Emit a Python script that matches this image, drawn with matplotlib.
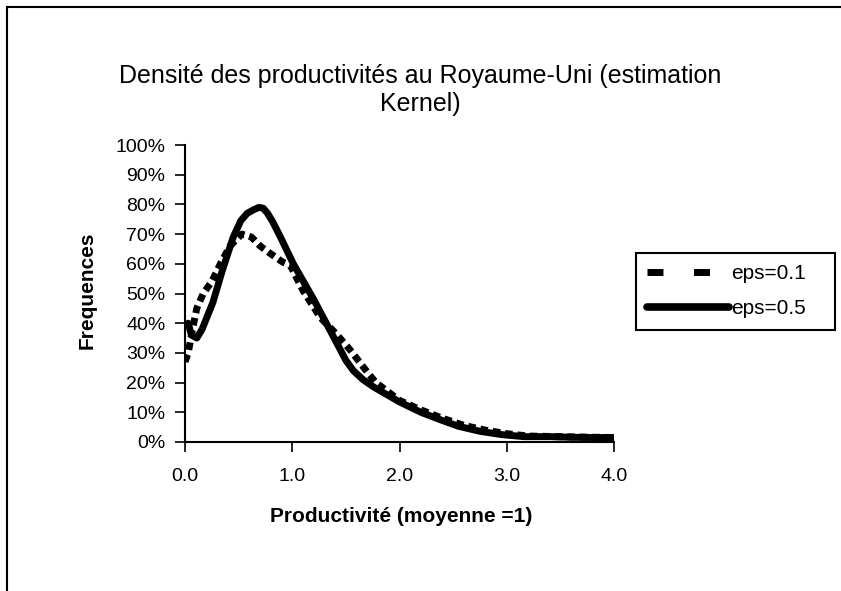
import matplotlib
matplotlib.use('Agg')
import matplotlib.pyplot as plt
from matplotlib.lines import Line2D
from matplotlib.ticker import PercentFormatter

plt.rcParams['font.family'] = ['Liberation Sans', 'DejaVu Sans']

title = "Densité des productivités au Royaume-Uni (estimation\nKernel)"
x_label = "Productivité (moyenne =1)"
y_label = "Frequences"
x_ticks = [0.0, 1.0, 2.0, 3.0, 4.0]
y_ticks = [0.0, 0.1, 0.2, 0.3, 0.4, 0.5, 0.6, 0.7, 0.8, 0.9, 1.0]

# eps=0.1 (pointillés)
eps01_x = [0.0, 0.03, 0.07, 0.11, 0.17, 0.25, 0.33, 0.42, 0.53, 0.62, 0.70, 0.79,
           0.91, 0.98, 1.10, 1.26, 1.42, 1.54, 1.70, 1.78, 2.0, 2.2, 2.4, 2.6,
           2.8, 3.0, 3.2, 3.5, 3.8, 4.0]
eps01_y = [0.27, 0.30, 0.38, 0.45, 0.50, 0.54, 0.60, 0.66, 0.70, 0.69, 0.66, 0.636,
           0.606, 0.596, 0.51, 0.42, 0.36, 0.31, 0.235, 0.20, 0.14, 0.108, 0.08, 0.056,
           0.04, 0.028, 0.02, 0.018, 0.016, 0.015]

# eps=0.5 (trait plein)
eps05_x = [0.03, 0.06, 0.11, 0.16, 0.26, 0.35, 0.45, 0.52, 0.58, 0.64, 0.69, 0.73,
           0.77, 0.82, 0.89, 1.01, 1.20, 1.42, 1.50, 1.57, 1.66, 1.76, 1.88, 2.0,
           2.2, 2.38, 2.55, 2.75, 2.95, 3.16, 3.4, 3.6, 3.8, 4.0]
eps05_y = [0.40, 0.36, 0.35, 0.38, 0.47, 0.58, 0.69, 0.745, 0.77, 0.782, 0.79, 0.787,
           0.77, 0.74, 0.69, 0.60, 0.48, 0.33, 0.275, 0.24, 0.21, 0.185, 0.16, 0.135,
           0.10, 0.075, 0.053, 0.036, 0.025, 0.018, 0.018, 0.016, 0.015, 0.015]

W, H = 841, 591
fig = plt.figure(figsize=(W / 100, H / 100), dpi=100)
ax = fig.add_axes([185 / W, (H - 442) / H, 429 / W, 297 / H])

ax.plot(eps01_x, eps01_y, color='black', lw=5, linestyle=(0, (1.1, 0.7)))
ax.plot(eps05_x, eps05_y, color='black', lw=5, solid_capstyle='round',
        solid_joinstyle='round')

ax.set_xlim(0, 4)
ax.set_ylim(0, 1)
ax.set_xticks(x_ticks)
ax.set_xticklabels(['%.1f' % v for v in x_ticks])
ax.set_yticks(y_ticks)
ax.yaxis.set_major_formatter(PercentFormatter(1.0, decimals=0))
ax.spines['top'].set_visible(False)
ax.spines['right'].set_visible(False)
for s in ['left', 'bottom']:
    ax.spines[s].set_linewidth(1.5)
ax.tick_params(direction='out', length=7, width=1.2, labelsize=14, pad=7)
ax.tick_params(axis='x', pad=12)

# légende
h1 = Line2D([], [], color='black', lw=5, linestyle=(0, (2.3, 4.4)),
            solid_capstyle='butt')
h2 = Line2D([], [], color='black', lw=5.5, solid_capstyle='round')
leg = fig.legend([h1, h2], ['eps=0.1', 'eps=0.5'], loc='upper left',
                 bbox_to_anchor=(636 / W, 1 - 328 / H, 199 / W, 75 / H),
                 mode='expand', borderaxespad=0,
                 fontsize=15, handlelength=3.9, handletextpad=0.1,
                 labelspacing=0.75, borderpad=0.55, fancybox=False,
                 framealpha=1, edgecolor='black')
leg.get_frame().set_linewidth(1.5)

fig.text(0.5, 1 - 90 / H, title, ha='center', va='center', fontsize=18,
         multialignment='center', linespacing=1.2)
fig.text(401 / W, 1 - 516 / H, x_label, ha='center', va='center', fontsize=15,
         fontweight='bold')
fig.text(87 / W, 1 - 290 / H, y_label, ha='center', va='center', fontsize=15,
         fontweight='bold', rotation=90)

# cadre
fig.add_artist(Line2D([7 / W, 7 / W], [0, 1 - 7 / H], color='black', lw=1.5,
                      transform=fig.transFigure))
fig.add_artist(Line2D([7 / W, 1], [1 - 7 / H, 1 - 7 / H], color='black', lw=1.5,
                      transform=fig.transFigure))

fig.savefig('out.png', dpi=100)
